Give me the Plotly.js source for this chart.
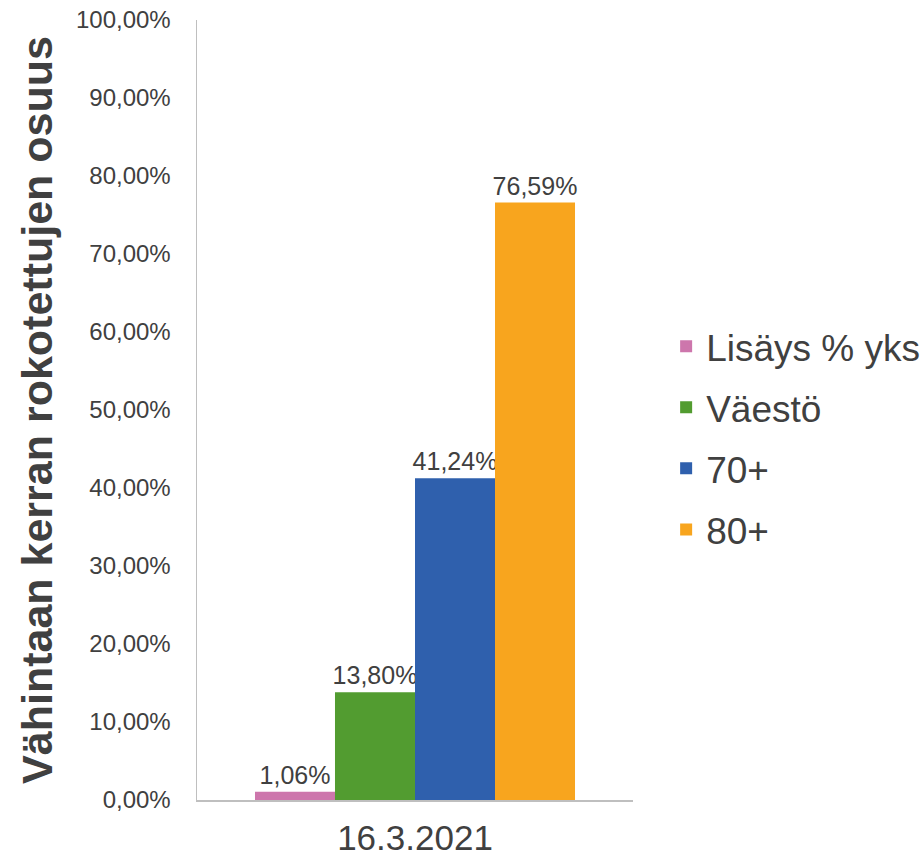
<!DOCTYPE html>
<html>
<head>
<meta charset="utf-8">
<script src="https://cdn.plot.ly/plotly-3.0.1.min.js"></script>
<style>html,body{margin:0;padding:0;background:#fff;}#chart{width:923px;height:860px;}</style>
</head>
<body>
<div id="chart"></div>
<script>
const categories = ["16.3.2021"];
const seriesNames = ["Lisäys % yks", "Väestö", "70+", "80+"];
const lisays = [0.0106];
const vaesto = [0.1380];
const yli70 = [0.4124];
const yli80 = [0.7659];
const seriesValues = [lisays, vaesto, yli70, yli80];
const seriesColors = ["#CD76AC", "#529C30", "#2F60AD", "#F8A51E"];
const yTitle = "Vähintaan kerran rokotettujen osuus";

const FONT = "Liberation Sans, Arial, sans-serif";
const TXT = "#404040";

const traces = seriesNames.map((name, i) => ({
  type: "bar",
  name: name,
  x: categories,
  y: seriesValues[i],
  legendgroup: "g" + i,
  marker: {color: seriesColors[i]},
  texttemplate: "%{y:.2%}",
  textposition: "outside",
  constraintext: "none",
  cliponaxis: false,
  textfont: {family: FONT, size: 25, color: TXT},
  hoverinfo: "none"
}));

const layout = {
  width: 923,
  height: 860,
  margin: {l: 197, r: 290, t: 20, b: 60, pad: 0, autoexpand: false},
  paper_bgcolor: "#ffffff",
  plot_bgcolor: "#ffffff",
  separators: ", ",
  barmode: "group",
  bargap: 0.266,
  bargroupgap: 0,
  showlegend: true,
  font: {family: FONT, color: TXT},
  legend: {
    x: 1.076, xanchor: "left",
    y: 0.464, yanchor: "middle",
    font: {family: FONT, size: 37, color: TXT},
    traceorder: "grouped",
    tracegroupgap: 10,
    bgcolor: "rgba(0,0,0,0)",
    borderwidth: 0
  },
  xaxis: {
    type: "category",
    showline: true,
    linecolor: "#bfbfbf",
    linewidth: 1.5,
    showgrid: false,
    zeroline: false,
    ticks: "",
    ticklabelstandoff: 6,
    tickfont: {family: FONT, size: 35, color: TXT},
    automargin: false,
    fixedrange: true
  },
  yaxis: {
    range: [0, 1],
    dtick: 0.1,
    tickformat: ".2%",
    showline: true,
    linecolor: "#bfbfbf",
    linewidth: 1.5,
    showgrid: false,
    zeroline: false,
    ticks: "",
    ticklabelstandoff: 20,
    tickfont: {family: FONT, size: 24, color: TXT},
    title: {text: yTitle, font: {family: FONT, size: 43, color: TXT, weight: "bold"}, standoff: 10},
    automargin: false,
    fixedrange: true
  }
};

Plotly.newPlot("chart", traces, layout, {displayModeBar: false, staticPlot: true});
</script>
</body>
</html>
